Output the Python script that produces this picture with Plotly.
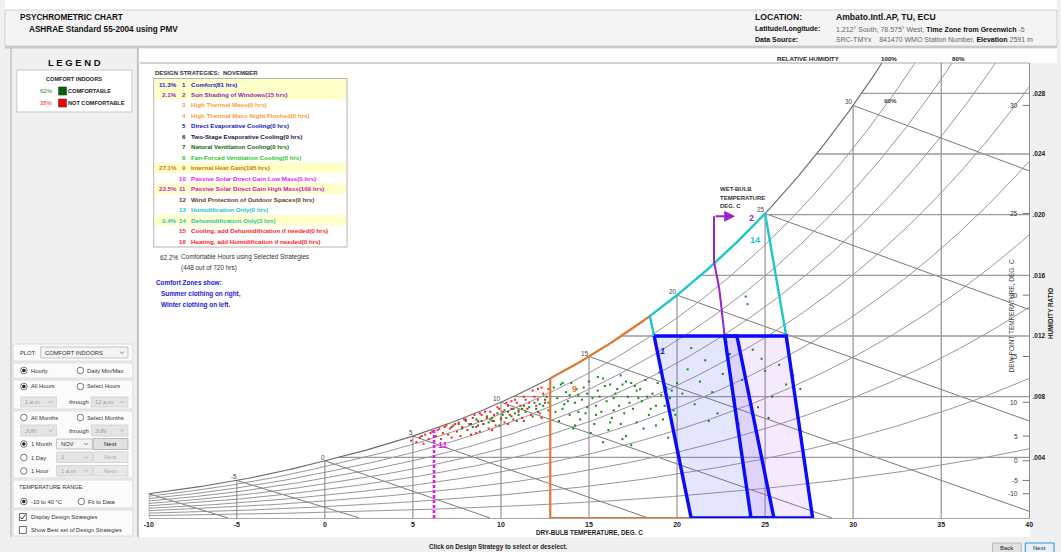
import numpy as np
import plotly.graph_objects as go

FW, FH = 1061, 552
FONT = "Liberation Sans, Arial, sans-serif"
P_ATM = 101.325  # kPa, standard sea-level chart

# ---------------- chart values ----------------
dry_bulb_ticks = [-10, -5, 0, 5, 10, 15, 20, 25, 30, 35, 40]
hum_ratio_ticks = [0.004, 0.008, 0.012, 0.016, 0.020, 0.024, 0.028]
hum_ratio_labels = [".004", ".008", ".012", ".016", ".020", ".024", ".028"]
dew_point_ticks = [-10, -5, 0, 5, 10, 15, 20, 25, 30]
wet_bulb_lines = [-10, -5, 0, 5, 10, 15, 20, 25, 30]
wet_bulb_labels = [-5, 0, 5, 10, 15, 20, 25, 30]
rh_curves = [0.1, 0.2, 0.3, 0.4, 0.5, 0.6, 0.7, 0.8, 0.9]

# November hours: (dry-bulb °C, humidity ratio g/kg)
uncomfortable_hours = [
    (4.9, 5.1), (5.2, 5.0), (5.4, 5.3), (5.6, 4.9), (5.7, 5.5), (5.9, 5.2), (6.0, 5.6), (6.2, 5.0),
    (6.3, 5.4), (6.4, 5.8), (6.6, 5.2), (6.7, 5.6), (6.8, 6.0), (7.0, 5.5), (7.1, 5.9), (7.2, 5.3),
    (7.3, 6.1), (7.5, 5.7), (7.6, 6.3), (7.7, 5.4), (7.8, 6.0), (8.0, 6.5), (8.1, 5.8), (8.2, 6.2),
    (8.3, 5.5), (8.4, 6.6), (8.6, 6.0), (8.7, 6.4), (8.8, 5.7), (8.9, 6.8), (9.0, 6.2), (9.2, 6.6),
    (9.3, 5.9), (9.4, 7.0), (9.5, 6.4), (9.6, 6.8), (9.7, 6.1), (9.9, 7.2), (10.0, 6.6), (10.1, 7.0),
    (10.2, 6.3), (10.4, 7.4), (10.5, 6.8), (10.6, 7.2), (10.7, 6.5), (10.9, 7.6), (11.0, 7.0), (11.1, 7.4),
    (11.2, 6.6), (11.4, 7.8), (11.5, 7.2), (11.6, 7.6), (11.7, 6.8), (11.9, 8.0), (12.0, 7.4), (12.1, 7.8),
    (12.2, 6.9), (12.4, 8.2), (12.5, 7.6), (12.6, 8.0), (12.7, 7.1), (12.7, 8.5),
    (6.5, 5.9), (7.4, 6.2), (8.5, 6.8), (9.1, 7.0), (9.8, 7.3), (10.3, 7.6), (10.8, 7.8), (11.3, 8.0),
    (11.8, 8.4), (12.3, 8.6), (6.9, 6.1), (7.9, 6.5), (8.8, 6.9), (10.6, 7.7), (12.1, 8.5), (5.5, 5.4),
    (6.1, 5.7), (9.5, 5.8), (10.4, 6.2), (11.3, 6.4), (12.3, 6.6), (8.6, 5.6),
]
comfortable_hours = [
    (7.2, 6.0), (7.6, 6.2), (8.0, 6.4), (8.3, 6.2), (8.6, 6.5), (8.9, 6.4), (9.2, 6.7), (9.5, 6.6),
    (9.8, 6.9), (10.1, 6.8), (10.4, 7.0), (10.7, 7.2), (11.0, 7.1), (11.3, 7.4), (11.6, 7.3), (11.9, 7.6),
    (12.2, 7.5), (12.5, 7.8), (9.0, 6.2), (10.0, 6.5), (11.0, 6.8), (12.0, 7.2), (9.6, 6.4), (10.6, 6.7),
    (11.4, 7.0), (12.4, 7.4), (10.2, 7.1), (8.4, 6.0), (9.3, 6.3), (10.8, 6.9),
    (7.8, 5.9), (8.7, 6.1), (9.4, 6.5), (10.3, 6.6), (11.2, 7.2), (12.1, 7.0), (12.7, 7.6), (11.8, 6.7),
    (10.9, 6.4), (9.9, 6.1),
    (13.0, 8.6), (13.2, 7.9), (13.4, 8.8), (13.5, 7.2), (13.7, 8.3), (13.9, 6.8), (14.0, 8.9), (14.2, 7.6),
    (14.4, 8.1), (14.5, 6.5), (14.7, 8.6), (14.9, 7.3), (15.0, 9.0), (15.2, 7.9), (15.3, 6.2), (15.5, 8.4),
    (15.7, 7.0), (15.8, 9.2), (16.0, 7.7), (16.2, 8.8), (16.3, 6.6), (16.5, 8.2), (16.7, 7.4), (16.8, 9.4),
    (17.0, 6.9), (17.2, 8.0), (17.4, 8.9), (17.5, 7.2), (17.7, 6.3), (17.9, 8.5), (18.0, 7.7), (18.2, 9.1),
    (18.4, 6.8), (18.6, 8.2), (18.8, 7.4), (19.0, 9.6), (19.2, 6.5), (19.4, 8.6), (19.6, 7.9), (19.8, 7.1),
    (20.0, 8.9), (14.1, 5.9), (15.1, 5.6), (16.1, 5.8), (17.1, 5.4), (18.1, 5.9), (13.6, 7.5), (14.6, 7.8),
    (15.6, 8.0), (16.6, 8.5), (17.6, 8.7), (13.3, 6.4), (14.8, 6.9), (16.4, 7.1), (17.8, 7.9), (19.1, 8.1),
    (15.8, 5.0), (17.4, 4.8), (19.5, 5.3), (16.9, 5.2),
    (13.1, 7.0), (13.8, 7.7), (14.3, 8.5), (14.9, 8.2), (15.4, 7.4), (15.9, 8.7), (16.4, 7.9), (16.9, 8.8),
    (17.3, 7.6), (17.7, 8.4), (18.3, 8.0), (18.9, 8.9), (19.3, 7.4), (19.7, 8.4), (13.9, 8.1), (14.4, 7.0),
    (15.4, 6.8), (16.8, 6.2), (18.5, 7.2), (19.9, 6.8), (13.5, 8.9), (15.5, 9.3), (17.1, 9.0), (14.2, 6.1),
    (16.2, 6.3), (18.8, 6.1),
    (20.3, 8.2), (20.6, 9.8), (21.0, 7.5), (21.3, 9.0), (21.6, 10.4), (22.0, 8.3), (22.3, 6.9), (22.6, 9.5),
    (23.0, 10.8), (23.3, 7.8), (23.7, 9.1), (24.0, 8.6), (24.3, 11.1), (24.6, 7.3), (25.0, 9.7), (25.4, 8.0),
    (25.8, 10.1), (26.2, 8.8), (26.6, 9.4), (27.0, 8.5), (23.9, 14.6), (24.0, 14.1), (21.8, 6.4), (23.5, 6.2),
    (25.2, 6.6), (20.8, 11.2), (22.8, 11.6), (24.8, 10.5),
]

# Comfort zones (PMV): corners as (dry-bulb °C, humidity ratio)
winter_zone_db = [18.7, 23.4, 25.5, 20.8]
winter_zone_w = [0.012, 0.012, 0.0, 0.0]
summer_zone_db = [22.7, 26.2, 27.7, 24.2]
summer_zone_w = [0.012, 0.012, 0.0, 0.0]
# Strategy boundaries
dehum_sat_db = [18.45, 25.0]        # saturation span of zone 14
heat_gain_db = 12.8                 # left edge of zone 9
shading_db = [22.1, 22.1, 22.4, 22.7]
shading_w = [0.0199, 0.0169, 0.0151, 0.012]
shading_arrow_end_db = 23.3
solar_high_mass_db = 6.2

strategy_names = [
    "Comfort", "Sun Shading of Windows", "High Thermal Mass", "High Thermal Mass Night Flushed",
    "Direct Evaporative Cooling", "Two-Stage Evaporative Cooling", "Natural Ventilation Cooling",
    "Fan-Forced Ventilation Cooling", "Internal Heat Gain", "Passive Solar Direct Gain Low Mass",
    "Passive Solar Direct Gain High Mass", "Wind Protection of Outdoor Spaces", "Humidification Only",
    "Dehumidification Only", "Cooling, add Dehumidification if needed", "Heating, add Humidification if needed",
]
strategy_hours = [81, 15, 0, 0, 0, 0, 0, 0, 195, 0, 169, 0, 0, 3, 0, 0]
strategy_colors = ["#1a1ad2", "#9a18c8", "#ff9a30", "#ff9a30", "#1818a8", "#14143c", "#0b6a0b", "#2ec42e",
                   "#d8701a", "#e424e4", "#c818c8", "#6a3a12", "#1ec2c2", "#1ec2c2", "#ff1a1a", "#ff1a1a"]
total_hours = 720
comfortable_with_strategies = 448
legend_pct = [62, 38]


# ---------------- psychrometrics ----------------
def p_ws(t):
    t = np.asarray(t, dtype=float)
    T = t + 273.15
    ln_w = (-5.8002206e3 / T + 1.3914993 - 4.8640239e-2 * T + 4.1764768e-5 * T ** 2
            - 1.4452093e-8 * T ** 3 + 6.5459673 * np.log(T))
    ln_i = (-5.6745359e3 / T + 6.3925247 - 9.677843e-3 * T + 6.2215701e-7 * T ** 2
            + 2.0747825e-9 * T ** 3 - 9.484024e-13 * T ** 4 + 4.1635019 * np.log(T))
    return np.exp(np.where(t >= 0, ln_w, ln_i)) / 1000.0


def w_rh(t, rh):
    pw = rh * p_ws(t)
    return 0.621945 * pw / (P_ATM - pw)


def w_wetbulb(t, twb):
    ws = float(w_rh(twb, 1.0))
    if twb >= 0:
        return ((2501 - 2.326 * twb) * ws - 1.006 * (t - twb)) / (2501 + 1.86 * t - 4.186 * twb)
    return ((2830 - 0.24 * twb) * ws - 1.006 * (t - twb)) / (2830 + 1.86 * t - 2.1 * twb)


_tg = np.linspace(-20, 50, 7001)
_wg = w_rh(_tg, 1.0)


def dew_point(w):
    return float(np.interp(w, _wg, _tg))


# ---------------- helpers ----------------
shapes, annotations = [], []


def X(px):
    return px / FW


def Y(py):
    return 1 - py / FH


def rect(x0, y0, x1, y1, fill=None, line=None, lw=1.0):
    shapes.append(dict(type="rect", xref="paper", yref="paper", x0=X(x0), x1=X(x1), y0=Y(y1), y1=Y(y0),
                       fillcolor=fill or "rgba(0,0,0,0)",
                       line=dict(color=line or "rgba(0,0,0,0)", width=lw if line else 0), layer="below"))


def pline(x0, y0, x1, y1, color="#999", lw=1.0, layer="below"):
    shapes.append(dict(type="line", xref="paper", yref="paper", x0=X(x0), x1=X(x1), y0=Y(y0), y1=Y(y1),
                       line=dict(color=color, width=lw), layer=layer))


def txt(px, py, s, size=6.5, color="#222", xa="left", ya="middle", bold=False, angle=0):
    annotations.append(dict(xref="paper", yref="paper", x=X(px), y=Y(py), text=f"<b>{s}</b>" if bold else s,
                            showarrow=False, xanchor=xa, yanchor=ya, borderpad=0,
                            font=dict(size=size, color=color, family=FONT), textangle=angle))


def dtxt(t, w, s, size=6.5, color="#444", xa="center", ya="middle", bold=False, xs=0, ys=0):
    annotations.append(dict(xref="x", yref="y", x=t, y=w, text=f"<b>{s}</b>" if bold else s,
                            showarrow=False, xanchor=xa, yanchor=ya, xshift=xs, yshift=ys, borderpad=0,
                            font=dict(size=size, color=color, family=FONT)))


def radio(cx, cy, checked=False):
    shapes.append(dict(type="circle", xref="paper", yref="paper", x0=X(cx - 3.3), x1=X(cx + 3.3),
                       y0=Y(cy + 3.3), y1=Y(cy - 3.3), fillcolor="white", line=dict(color="#555", width=0.8),
                       layer="below"))
    if checked:
        shapes.append(dict(type="circle", xref="paper", yref="paper", x0=X(cx - 1.8), x1=X(cx + 1.8),
                           y0=Y(cy + 1.8), y1=Y(cy - 1.8), fillcolor="#222", line=dict(width=0), layer="below"))


def checkbox(cx, cy, checked=False):
    rect(cx - 3.5, cy - 3.5, cx + 3.5, cy + 3.5, fill="white", line="#444", lw=0.8)
    if checked:
        shapes.append(dict(type="path", xref="paper", yref="paper",
                           path=f"M {X(cx - 2.4)},{Y(cy)} L {X(cx - 0.7)},{Y(cy + 2)} L {X(cx + 2.5)},{Y(cy - 2.4)}",
                           line=dict(color="#333", width=1), layer="below"))


def dropdown(x0, y0, x1, y1, label, enabled=True):
    rect(x0, y0, x1, y1, fill="#f4f4f4" if enabled else "#e4e4e4", line="#b8b8b8" if enabled else "#cfcfcf", lw=0.8)
    txt(x0 + 3, (y0 + y1) / 2, label, size=5.8, color="#333" if enabled else "#9a9a9a")
    cx, cy = x1 - 6, (y0 + y1) / 2
    shapes.append(dict(type="path", xref="paper", yref="paper",
                       path=f"M {X(cx - 2)},{Y(cy - 1)} L {X(cx)},{Y(cy + 1)} L {X(cx + 2)},{Y(cy - 1)}",
                       line=dict(color="#666" if enabled else "#aaa", width=0.8), layer="below"))


def button(x0, y0, x1, y1, label, enabled=True, focus=False):
    rect(x0, y0, x1, y1, fill="#e5f1fb" if focus else ("#e1e1e1" if enabled else "#e8e8e8"),
         line="#0078d7" if focus else ("#adadad" if enabled else "#cfcfcf"), lw=0.8)
    txt((x0 + x1) / 2, (y0 + y1) / 2, label, size=6, color="#222" if enabled else "#aaa", xa="center")


# ---------------- window panels ----------------
rect(0, 0, FW, 10, fill="white")
rect(0, 10, FW, 46, fill="#f4f4f4", line="#d0d0d0", lw=1)
rect(0, 46, FW, 48.5, fill="#c9c9c9")
rect(135, 48.5, FW, 537, fill="white")
rect(1034, 63, FW, 537, fill="#f0f0f0")
pline(134, 48, 134, 537, color="#c4c4c4", lw=2)
pline(6, 48, 6, 537, color="#c4c4c4", lw=1.5)

txt(14, 17, "PSYCHROMETRIC CHART", size=8.2, bold=True, color="#111")
txt(23, 29, "ASHRAE Standard 55-2004 using PMV", size=8.2, bold=True, color="#111")
txt(755, 17, "LOCATION:", size=8.6, bold=True, color="#111")
txt(837, 17, "Ambato.Intl.AP, TU, ECU", size=8.6, bold=True, color="#111")
txt(755, 29, "Latitude/Longitude:", size=7, bold=True, color="#111")
txt(837, 29, "<span style='color:#666'>1.212° South, 78.575° West, </span><b>Time Zone from Greenwich</b>"
             "<span style='color:#666'> -5</span>", size=7, color="#111")
txt(755, 40, "Data Source:", size=7, bold=True, color="#111")
txt(837, 40, "<span style='color:#666'>SRC-TMYx&nbsp;&nbsp;&nbsp;&nbsp;841470 WMO Station Number, </span>"
             "<b>Elevation</b><span style='color:#666'> 2591 m</span>", size=7, color="#111")

# legend panel
txt(70, 62, "L E G E N D", size=9.5, bold=True, color="#111", xa="center")
rect(12, 70, 128, 112, fill="white", line="#c8c8c8", lw=1)
txt(70, 79, "COMFORT INDOORS", size=5.6, bold=True, color="#222", xa="center")
txt(49, 91, f"{legend_pct[0]}%", size=6, color="#2e8b2e", xa="right")
rect(54, 87, 62, 95, fill="#006400", line="#333", lw=0.6)
txt(63, 91, "COMFORTABLE", size=5.6, bold=True, color="#222")
txt(49, 103, f"{legend_pct[1]}%", size=6, color="#ff3030", xa="right")
rect(54, 99, 62, 107, fill="#ff0000", line="#333", lw=0.6)
txt(63, 103, "NOT COMFORTABLE", size=5.6, bold=True, color="#222")

# control panel
for (a, b) in [(344, 361), (363, 378), (380, 409), (411, 478), (480, 508), (510, 536)]:
    rect(8, a, 129, b, fill="#fbfbfb", line="#d6d6d6", lw=0.8)
txt(14, 352.5, "PLOT:", size=5.8, color="#333")
dropdown(36, 347, 124, 358, "COMFORT INDOORS")
radio(19, 370.5, True); txt(25, 370.5, "Hourly", size=5.8, color="#333")
radio(76, 370.5); txt(82, 370.5, "Daily Min/Max", size=5.8, color="#333")
radio(19, 386.5, True); txt(25, 386.5, "All Hours", size=5.8, color="#333")
radio(76, 386.5); txt(82, 386.5, "Select Hours", size=5.8, color="#333")
dropdown(16, 397, 52, 407, "1 a.m.", enabled=False)
txt(75, 402, "through", size=5.8, color="#333", xa="center")
dropdown(87, 397, 124, 407, "12 a.m.", enabled=False)
radio(19, 417.5); txt(25, 417.5, "All Months", size=5.8, color="#333")
radio(76, 417.5); txt(82, 417.5, "Select Months", size=5.8, color="#333")
dropdown(16, 425, 52, 436, "JUN", enabled=False)
txt(75, 430.5, "through", size=5.8, color="#333", xa="center")
dropdown(87, 425, 124, 436, "JUN", enabled=False)
radio(19, 444, True); txt(25, 444, "1 Month", size=5.8, color="#333")
dropdown(52, 439, 88, 449, "NOV")
button(89, 438.5, 124, 449.5, "Next")
radio(19, 457.5); txt(25, 457.5, "1 Day", size=5.8, color="#333")
dropdown(52, 452, 88, 462.5, "1", enabled=False)
button(89, 452, 124, 462.5, "Next", enabled=False)
radio(19, 471); txt(25, 471, "1 Hour", size=5.8, color="#333")
dropdown(52, 465.5, 88, 476, "1 a.m.", enabled=False)
button(89, 465.5, 124, 476, "Next", enabled=False)
txt(13, 487, "TEMPERATURE RANGE:", size=5.6, color="#333")
radio(19, 501.5, True); txt(25, 501.5, "-10 to 40 °C", size=5.8, color="#333")
radio(77, 501.5); txt(83, 501.5, "Fit to Data", size=5.8, color="#333")
checkbox(18, 517, True); txt(25, 517, "Display Design Strategies", size=5.8, color="#333")
checkbox(18, 530, False); txt(25, 530, "Show Best set of Design Strategies", size=5.8, color="#333")

# bottom bar
txt(497, 546.5, "Click on Design Strategy to select or deselect.", size=6.3, bold=True, color="#222", xa="center")
button(996, 543, 1025, 553, "Back")
button(1029, 543, 1058, 553, "Next", focus=True)

# ---------------- design strategy table ----------------
txt(150, 73, "DESIGN STRATEGIES:&nbsp;&nbsp;NOVEMBER", size=6, bold=True, color="#333")
row_y0, row_h = 84.0, 10.48
for i, hrs in enumerate(strategy_hours):
    if hrs > 0:
        yc = row_y0 + i * row_h
        rect(151, yc - row_h / 2, 344, yc + row_h / 2, fill="#ffffc8")
rect(150, 78.5, 345, 247, line="#b4b4b4", lw=1)
for i, (name, hrs, col) in enumerate(zip(strategy_names, strategy_hours, strategy_colors)):
    yc = row_y0 + i * row_h
    if hrs > 0:
        txt(174, yc, f"{100 * hrs / total_hours + 1e-9:.1f}%", size=6.2, color=col, xa="right", bold=True)
    txt(184, yc, f"{i + 1}", size=6.2, color=col, xa="right", bold=True)
    txt(187, yc, f"{name}({hrs} hrs)", size=6.2, color=col, bold=True)

txt(155, 257, f"{100 * comfortable_with_strategies / total_hours:.1f}%", size=6.4, color="#333")
txt(177, 257, "Comfortable Hours using Selected Strategies", size=6.4, color="#333")
txt(177, 267.5, f"({comfortable_with_strategies} out of {total_hours} hrs)", size=6.4, color="#333")
txt(151, 283, "Comfort Zones show:", size=6.4, bold=True, color="#2020e0")
txt(156, 294, "Summer clothing on right,", size=6.4, bold=True, color="#2020e0")
txt(156, 305, "Winter clothing on left.", size=6.4, bold=True, color="#2020e0")

# ---------------- psychrometric grid ----------------
fig = go.Figure()


def add_line(xs, ys, color="#888", width=1.0, dash=None):
    fig.add_trace(go.Scatter(x=[float(v) for v in xs], y=[float(v) for v in ys], mode="lines",
                             hoverinfo="skip", showlegend=False,
                             line=dict(color=color, width=width, dash=dash)))


t_fine = np.linspace(-10, 40, 1001)
for rh in rh_curves:
    add_line(t_fine, w_rh(t_fine, rh), color="#8a8a8a", width=0.9)

for t in dry_bulb_ticks[:-1]:
    add_line([t, t], [0, min(float(w_rh(t, 1.0)), 0.0302)], color="#8a8a8a", width=1.1)

for w in hum_ratio_ticks:
    add_line([dew_point(w), 40], [w, w], color="#9a9a9a", width=1.3)

# wet-bulb lines: straight from the saturation curve down to W = 0 or to the 40 °C edge
for twb in wet_bulb_lines:
    w_sat = float(w_rh(twb, 1.0))
    t_end = 40.0
    w_end = w_wetbulb(t_end, twb)
    if w_end < 0:
        lo, hi = float(twb), 40.0
        for _ in range(60):
            mid = 0.5 * (lo + hi)
            if w_wetbulb(mid, twb) > 0:
                lo = mid
            else:
                hi = mid
        t_end, w_end = lo, 0.0
    shapes.append(dict(type="line", xref="x", yref="y", x0=float(twb), y0=w_sat, x1=float(t_end),
                       y1=float(w_end), line=dict(color="#7a7a7a", width=1), layer="below"))

add_line(t_fine, w_rh(t_fine, 1.0), color="#6a6a6a", width=1.1)

# ---------------- comfort zones and strategies ----------------
fig.add_trace(go.Scatter(x=winter_zone_db + winter_zone_db[:1], y=winter_zone_w + winter_zone_w[:1],
                         mode="lines", fill="toself", fillcolor="rgba(90,100,240,0.16)",
                         line=dict(width=0), hoverinfo="skip", showlegend=False))
fig.add_trace(go.Scatter(x=summer_zone_db + summer_zone_db[:1], y=summer_zone_w + summer_zone_w[:1],
                         mode="lines", fill="toself", fillcolor="rgba(190,120,240,0.16)",
                         line=dict(width=0), hoverinfo="skip", showlegend=False))

# hourly data
fig.add_trace(go.Scatter(x=[p[0] for p in comfortable_hours], y=[p[1] / 1000 for p in comfortable_hours],
                         mode="markers", marker=dict(size=2, color="#128a12", symbol="square", line=dict(width=0)),
                         hoverinfo="skip", showlegend=False))
fig.add_trace(go.Scatter(x=[p[0] for p in uncomfortable_hours], y=[p[1] / 1000 for p in uncomfortable_hours],
                         mode="markers", marker=dict(size=2, color="#ff1e1e", symbol="square", line=dict(width=0)),
                         hoverinfo="skip", showlegend=False))

# 9 internal heat gain
t_sat9 = np.linspace(heat_gain_db, dehum_sat_db[0], 60)
add_line([winter_zone_db[3], heat_gain_db] + list(t_sat9), [0, 0] + list(w_rh(t_sat9, 1.0)),
         color="#dd7a36", width=2.2)
# 14 dehumidification
t_sat14 = np.linspace(dehum_sat_db[0], dehum_sat_db[1], 60)
add_line([winter_zone_db[0]] + list(t_sat14) + [summer_zone_db[1]],
         [winter_zone_w[0]] + list(w_rh(t_sat14, 1.0)) + [summer_zone_w[1]], color="#1ec8c8", width=2.4)
# 2 sun shading
add_line(shading_db, shading_w, color="#9a22cc", width=2)
annotations.append(dict(xref="x", yref="y", axref="x", ayref="y", x=shading_arrow_end_db, y=shading_w[0],
                        ax=shading_db[0], ay=shading_w[0], showarrow=True, arrowhead=2, arrowsize=1.1,
                        arrowwidth=2, arrowcolor="#9a22cc", text=""))
# 11 passive solar high mass
add_line([solar_high_mass_db, solar_high_mass_db], [0, float(w_rh(solar_high_mass_db, 1.0))],
         color="#e21ee2", width=2.6, dash="3px,2px")
# 1 comfort outlines
add_line(winter_zone_db + winter_zone_db[:1], winter_zone_w + winter_zone_w[:1], color="#0a0aff", width=3.4)
add_line(summer_zone_db + summer_zone_db[:1], summer_zone_w + summer_zone_w[:1], color="#0a0aff", width=3.4)

# zone numbers
dtxt(19.2, 0.0110, "<i>1</i>", size=9, color="#1a1ad2", bold=True)
dtxt(24.2, 0.0198, "2", size=9, color="#9a22cc", bold=True)
dtxt(14.2, 0.0085, "9", size=9, color="#dd7a36", bold=True)
dtxt(6.7, 0.0048, "11", size=9, color="#e21ee2", bold=True)
dtxt(24.45, 0.0183, "14", size=9, color="#1ec8c8", bold=True)

# wet-bulb labels on the saturation curve
for twb in wet_bulb_labels:
    dtxt(twb, float(w_rh(twb, 1.0)), str(twb), size=6.3, color="#444", xa="right", ya="bottom", xs=1, ys=-1)

# dew point scale
for td in dew_point_ticks:
    wd = float(w_rh(td, 1.0))
    dtxt(40, wd, str(td), size=6.5, color="#333", xa="right", xs=-10)
    shapes.append(dict(type="line", xref="x", yref="y", x0=39.63, x1=40, y0=wd, y1=wd,
                       line=dict(color="#777", width=1)))

# frame
pline(136, 63, 1033, 63, color="#a8a8a8", lw=1)

# axis titles and other chart text
txt(589, 533, "DRY-BULB TEMPERATURE, DEG. C", size=6.3, bold=True, color="#222", xa="center")
txt(1015, 316, "DEW POINT TEMPERATURE, DEG. C", size=6.5, color="#444", xa="center", angle=-90)
txt(1054, 314, "HUMIDITY RATIO", size=6.3, bold=True, color="#222", xa="center", angle=-90)
txt(810, 58, "RELATIVE HUMIDITY", size=6.2, bold=True, color="#222", xa="center")
txt(892, 58, "100%", size=6.2, bold=True, color="#222", xa="center")
txt(962, 58, "80%", size=6.2, bold=True, color="#222", xa="center")
txt(893, 100, "90%", size=6.2, bold=True, color="#444", xa="center")
txt(720, 189, "WET-BULB", size=6, bold=True, color="#333")
txt(720, 197.5, "TEMPERATURE", size=6, bold=True, color="#333")
txt(720, 206, "DEG. C", size=6, bold=True, color="#333")

fig.update_layout(
    width=FW, height=FH, autosize=False,
    margin=dict(l=0, r=0, t=0, b=0, pad=0),
    paper_bgcolor="#f0f0f0", plot_bgcolor="rgba(0,0,0,0)",
    font=dict(family=FONT, size=7, color="#222"),
    showlegend=False,
    shapes=shapes, annotations=annotations,
    xaxis=dict(domain=[145 / FW, 1033 / FW], range=[-10, 40], tickvals=dry_bulb_ticks,
               ticktext=[f"<b>{v}</b>" for v in dry_bulb_ticks], tickfont=dict(size=7, color="#222"),
               showgrid=False, zeroline=False, showline=True, linecolor="#a8a8a8", linewidth=1,
               ticks="", fixedrange=True),
    yaxis=dict(domain=[1 - 518 / FH, 1 - 63 / FH], range=[0, 0.030], side="right", tickvals=hum_ratio_ticks,
               ticktext=[f"<b>{s}</b>" for s in hum_ratio_labels], tickfont=dict(size=6.5, color="#222"),
               showgrid=False, zeroline=False, showline=True, linecolor="#8a8a8a", linewidth=1,
               ticks="", ticklabelstandoff=1, fixedrange=True),
)

fig.write_html("out.html", config={"displayModeBar": False, "staticPlot": True},
               post_script="document.body.style.margin='0';document.body.style.overflow='hidden';")
